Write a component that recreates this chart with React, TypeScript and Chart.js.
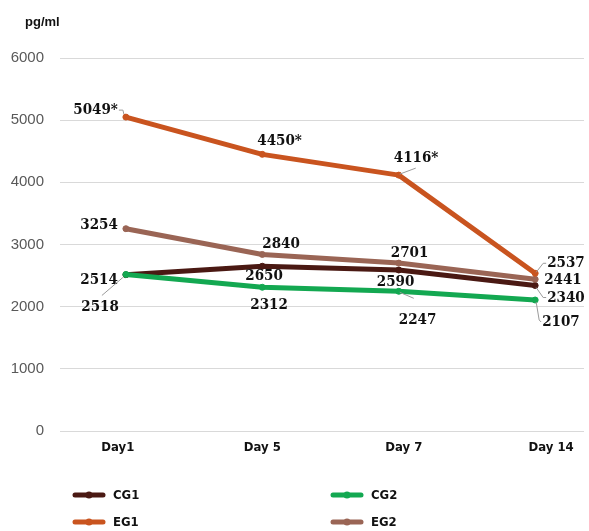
import React, { useEffect, useRef } from "react";
import { Chart, registerables } from "chart.js";

Chart.register(...registerables);

const days = ["Day1", "Day 5", "Day 7", "Day 14"];
const cg1 = [2514, 2650, 2590, 2340];
const cg2 = [2518, 2312, 2247, 2107];
const eg1 = [5049, 4450, 4116, 2537];
const eg2 = [3254, 2840, 2701, 2441];
const eg1Marks = ["*", "*", "*", ""];
const yTicks = [0, 1000, 2000, 3000, 4000, 5000, 6000];
// small horizontal nudges of the category labels (in category units)
const dayLabelNudge = [-0.059, 0, 0.037, 0.117];

const COLORS: Record<string, string> = {
  CG1: "#4a1913",
  CG2: "#13a851",
  EG1: "#c9541f",
  EG2: "#9a6555",
};

// label layout: [dx, dy, align, leader polyline (relative to point)]
type LL = [number, number, "left" | "right", number[][] | null];
const labelLayout: Record<string, LL[]> = {
  EG1: [
    [-8, -7, "right", [[-2, -3], [-3, -7], [-7, -7]]],
    [-5, -13, "left", null],
    [-5, -17, "left", [[1, -1], [17, -7]]],
    [12, -10, "left", [[1, -1], [8, -10], [11, -10]]],
  ],
  EG2: [
    [-8, -4, "right", null],
    [0, -10, "left", null],
    [-8, -10, "left", null],
    [9, 1, "left", null],
  ],
  CG1: [
    [-8, 5, "right", null],
    [-17, 10, "left", null],
    [-22, 12, "left", null],
    [12, 13, "left", [[1, 2], [8, 12], [11, 12]]],
  ],
  CG2: [
    [-7, 33, "right", [[-3, 3], [-24, 21]]],
    [-12, 18, "left", null],
    [0, 29, "left", [[1, 1], [15, 7]]],
    [7, 22, "left", [[1, 2], [4, 20], [6, 22]]],
  ],
};

const legendItems = [
  { name: "CG1", col: 0, row: 0 },
  { name: "CG2", col: 1, row: 0 },
  { name: "EG1", col: 0, row: 1 },
  { name: "EG2", col: 1, row: 1 },
];

const overlayPlugin = {
  id: "overlay",
  afterDatasetsDraw(chart: any) {
    const ctx = chart.ctx;
    ctx.save();
    ctx.font = "bold 13px 'Liberation Sans', Arial, sans-serif";
    ctx.fillStyle = "#111";
    ctx.textAlign = "left";
    ctx.textBaseline = "alphabetic";
    ctx.fillText("pg/ml", 25, 26);

    chart.data.datasets.forEach((ds: any, di: number) => {
      const meta = chart.getDatasetMeta(di);
      const layout = labelLayout[ds.label];
      meta.data.forEach((pt: any, i: number) => {
        const [dx, dy, align, leader] = layout[i];
        const px = pt.x;
        const py = pt.y;
        if (leader) {
          ctx.strokeStyle = "#9a9a9a";
          ctx.lineWidth = 1;
          ctx.beginPath();
          leader.forEach((p, k) => {
            if (k === 0) ctx.moveTo(px + p[0], py + p[1]);
            else ctx.lineTo(px + p[0], py + p[1]);
          });
          ctx.stroke();
        }
        const txt = String(ds.data[i].y) + (ds.label === "EG1" ? eg1Marks[i] : "");
        ctx.font = "bold 15px 'DejaVu Serif Condensed', 'DejaVu Serif', serif";
        ctx.fillStyle = "#111";
        ctx.textAlign = align;
        ctx.textBaseline = "middle";
        ctx.fillText(txt, px + dx, py + dy);
      });
    });

    legendItems.forEach((it) => {
      const x0 = it.col === 0 ? 75 : 333;
      const y = it.row === 0 ? 495 : 522;
      ctx.strokeStyle = COLORS[it.name];
      ctx.lineWidth = 5;
      ctx.lineCap = "round";
      ctx.beginPath();
      ctx.moveTo(x0, y);
      ctx.lineTo(x0 + 28, y);
      ctx.stroke();
      ctx.fillStyle = COLORS[it.name];
      ctx.beginPath();
      ctx.arc(x0 + 14, y, 3.5, 0, Math.PI * 2);
      ctx.fill();
      ctx.font = "bold 13px 'DejaVu Sans Condensed', 'DejaVu Sans', sans-serif";
      ctx.fillStyle = "#111";
      ctx.textAlign = "left";
      ctx.textBaseline = "middle";
      ctx.fillText(it.name, x0 + 38, y + 1);
    });
    ctx.restore();
  },
};

function makeDataset(label: string, values: number[], order: number) {
  return {
    label,
    data: values.map((v, i) => ({ x: i, y: v })),
    borderColor: COLORS[label],
    backgroundColor: COLORS[label],
    pointBackgroundColor: COLORS[label],
    pointBorderColor: COLORS[label],
    borderWidth: 5,
    pointRadius: 3,
    pointBorderWidth: 1,
    borderCapStyle: "round" as const,
    borderJoinStyle: "round" as const,
    tension: 0,
    order,
  };
}

export default function App() {
  const ref = useRef<HTMLCanvasElement>(null);
  useEffect(() => {
    document.body.style.margin = "0";
    if (!ref.current) return;
    const chart = new Chart(ref.current, {
      type: "line",
      data: {
        datasets: [
          makeDataset("CG1", cg1, 4),
          makeDataset("EG2", eg2, 3),
          makeDataset("CG2", cg2, 2),
          makeDataset("EG1", eg1, 1),
        ],
      },
      options: {
        responsive: false,
        animation: false,
        layout: { padding: { top: 58, right: 4, left: 0, bottom: 0 } },
        plugins: { legend: { display: false }, tooltip: { enabled: false } },
        scales: {
          x: {
            type: "linear",
            min: -0.483,
            max: 3.358,
            afterBuildTicks: (scale: any) => {
              scale.ticks = days.map((_, i) => ({ value: i + dayLabelNudge[i] }));
            },
            afterFit: (scale: any) => {
              scale.height = 100;
            },
            grid: { display: false, drawTicks: false },
            border: { display: false },
            ticks: {
              padding: 9,
              color: "#111",
              font: { family: "'DejaVu Sans Condensed', 'DejaVu Sans', sans-serif", size: 13, weight: "bold" },
              callback: (v: any) => days[Math.round(v as number)] ?? "",
            },
          },
          y: {
            min: 0,
            max: 6000,
            afterBuildTicks: (scale: any) => {
              scale.ticks = yTicks.map((v) => ({ value: v }));
            },
            afterFit: (scale: any) => {
              scale.width = 60;
            },
            grid: { color: "#d9d9d9", lineWidth: 1, drawTicks: false },
            border: { display: false },
            ticks: {
              padding: 16,
              color: "#595959",
              font: { family: "'Liberation Sans', Arial, sans-serif", size: 15 },
              callback: (v: any) => String(v),
            },
          },
        },
      },
      plugins: [overlayPlugin],
    });
    return () => chart.destroy();
  }, []);
  return <canvas ref={ref} width={589} height={531} style={{ display: "block" }} />;
}
